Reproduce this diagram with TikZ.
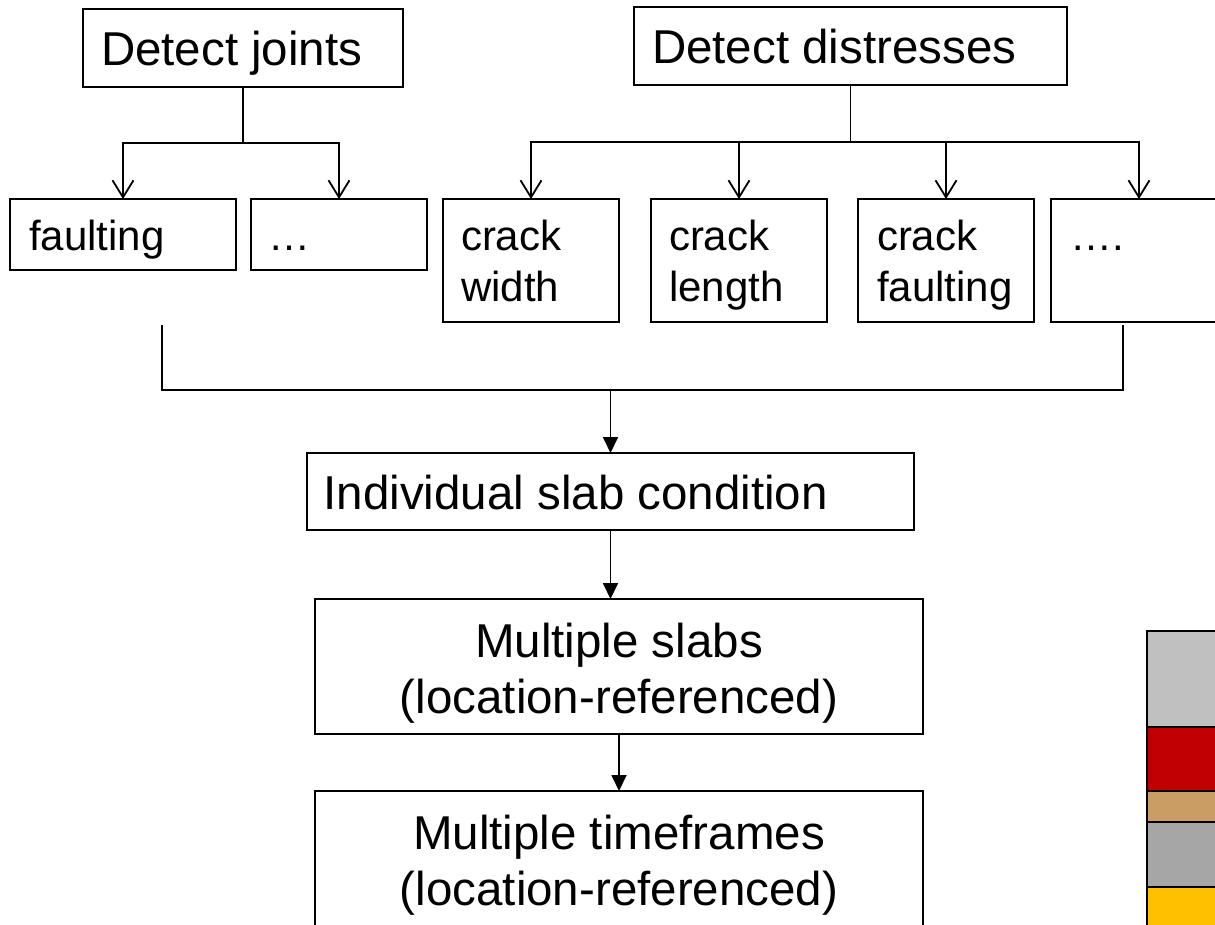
\documentclass[tikz,border=0pt]{standalone}
\usepackage{fontspec}
\setmainfont{Liberation Sans}
\usetikzlibrary{arrows.meta}
\newcommand{\tp}{\rule{0pt}{40pt}}
\definecolor{barA}{HTML}{C0C0C0}
\definecolor{barB}{HTML}{C00000}
\definecolor{barC}{HTML}{C99D63}
\definecolor{barD}{HTML}{A6A6A6}
\definecolor{barE}{HTML}{FFC000}
\begin{document}
\begin{tikzpicture}[x=1pt,y=-1pt,
  box/.style={draw, line width=2pt, inner sep=0pt, outer sep=0pt},
  bigf/.style={font=\fontsize{47.5pt}{56pt}\selectfont},
  smallf/.style={font=\fontsize{42pt}{51pt}\selectfont},
  lbl/.style={inner sep=0pt, outer sep=0pt, anchor=north west, align=left},
  clbl/.style={inner sep=0pt, outer sep=0pt, anchor=north, align=center},
  conn/.style={line width=1.8pt},
  openarr/.style={conn, -{Straight Barb[length=17pt,width=21pt]}},
  fillarr/.style={conn, -{Triangle[length=16pt,width=15pt]}},
  seg/.style={draw, line width=2pt}]
\useasboundingbox (0,0) rectangle (1215,924);
\clip (0,0) rectangle (1215,924);

% boxes
\node[box, minimum width=320pt, minimum height=78pt] (dj) at (243,48) {};
\node[box, minimum width=433pt, minimum height=78pt] (dd) at (850.5,46) {};
\node[box, minimum width=226pt, minimum height=71pt] (f1) at (123,234.5) {};
\node[box, minimum width=176pt, minimum height=71pt] (f2) at (339,234.5) {};
\node[box, minimum width=176pt, minimum height=123pt] (cw) at (531,260.5) {};
\node[box, minimum width=176pt, minimum height=123pt] (cl) at (739,260.5) {};
\node[box, minimum width=176pt, minimum height=123pt] (cf) at (946,260.5) {};
\node[box, minimum width=176pt, minimum height=123pt] (dt) at (1139,260.5) {};
\node[box, minimum width=607pt, minimum height=77pt] (isc) at (610.5,491.5) {};
\node[box, minimum width=608pt, minimum height=135pt] (ms) at (619,666.5) {};
\node[box, minimum width=608pt, minimum height=138pt] (mt) at (619,860) {};

% texts
\node[lbl, bigf] (djt) at (101,25) {\tp Detect joints};
\node[lbl, bigf] (ddt) at (652,23) {\tp Detect distresses};
\node[lbl, smallf] (f1t) at (29,210) {\tp faulting};
\node[lbl, smallf] (f2t) at (268,210) {\tp …};
\node[lbl, smallf] (cwt) at (461,210) {\tp crack\\width};
\node[lbl, smallf] (clt) at (669,210) {\tp crack\\length};
\node[lbl, smallf] (cft) at (877,210) {\tp crack\\faulting};
\node[lbl, smallf] (dtt) at (1070,210) {\tp ….};
\node[lbl, bigf] (isct) at (323.5,469) {\tp Individual slab condition};
\node[clbl, bigf] (mst) at (619,617) {\tp Multiple slabs\\(location-referenced)};
\node[clbl, bigf] (mtt) at (619,809) {\tp Multiple timeframes\\(location-referenced)};

% top trees
\coordinate (jb) at (243,143);
\draw[conn] (dj.south) -- (jb);
\draw[openarr] (jb) -| (f1.north);
\draw[openarr] (jb) -| (f2.north);
\coordinate (db) at (850.5,142);
\draw[conn] (dd.south) -- (db);
\draw[openarr] (db) -| (cw.north);
\draw[openarr] (db) -| (cl.north);
\draw[openarr] (db) -| (cf.north);
\draw[openarr] (db) -| (dt.north);

% merge
\coordinate (ml) at (162,325);
\coordinate (mr) at (1123,325);
\coordinate (mj) at (610.5,390);
\draw[conn] (ml) |- (mj) -| (mr);
\draw[fillarr] (mj) -- (isc.north);
\draw[fillarr] (isc.south) -- (isc.south |- ms.north);
\draw[fillarr] (ms.south) -- (mt.north);

% colour bar
\filldraw[seg, fill=barA] (1147,631) rectangle (1230,727);
\filldraw[seg, fill=barB] (1147,727) rectangle (1230,791);
\filldraw[seg, fill=barC] (1147,791) rectangle (1230,822);
\filldraw[seg, fill=barD] (1147,822) rectangle (1230,887);
\filldraw[seg, fill=barE] (1147,887) rectangle (1230,940);
\end{tikzpicture}
\end{document}
